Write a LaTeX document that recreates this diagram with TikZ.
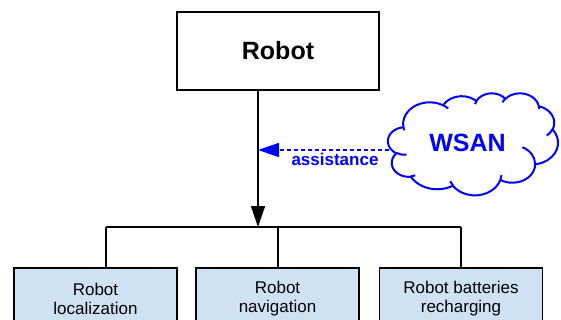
\documentclass[tikz,border=0pt]{standalone}
\usepackage{fontspec}
\setmainfont{Liberation Sans}
\usetikzlibrary{arrows.meta}
\definecolor{boxblue}{HTML}{CFE2F3}
\definecolor{pureblue}{HTML}{0000FF}
% convert a visual (OOXML) arc angle pair into parametric start/delta angles
\newcommand\prepcloudarc[5]{%
  \pgfmathsetmacro\tmpts{atan2((#2)*sin(#4),(#3)*cos(#4))}%
  \pgfmathsetmacro\tmpte{atan2((#2)*sin((#4)+(#5)),(#3)*cos((#4)+(#5)))}%
  \pgfmathsetmacro\tmpd{\tmpte-\tmpts}%
  \pgfmathsetmacro\tmpd{\tmpd-360*round((\tmpd-(#5))/360)}%
  \expandafter\xdef\csname cs#1\endcsname{\tmpts}%
  \expandafter\xdef\csname cd#1\endcsname{\tmpd}%
}
\newcommand\carc[3]{arc[start angle=\csname cs#1\endcsname, delta angle=\csname cd#1\endcsname, x radius=#2, y radius=#3]}
\tikzset{
  topbox/.style={draw=black, line width=1.5pt, minimum width=202pt, minimum height=78pt, inner sep=0pt,
    font=\fontsize{25}{28}\selectfont\bfseries},
  taskbox/.style={draw=black, line width=1.5pt, fill=boxblue, minimum width=163pt, minimum height=61pt,
    inner sep=0pt, align=center, font=\fontsize{17}{19}\selectfont},
  wsantext/.style={inner sep=0pt, text=pureblue, font=\fontsize{25}{28}\selectfont\bfseries},
  cloudline/.style={draw=pureblue, fill=white, line width=2pt, line join=round},
  cloudhook/.style={draw=pureblue, line width=2pt},
  link/.style={draw=black, line width=1.5pt},
  assistlink/.style={draw=pureblue, line width=1.5pt, dash pattern=on 4pt off 3pt,
    -{Triangle[length=21pt,width=14pt,sep=0pt]}},
  assistlabel/.style={text=pureblue, font=\fontsize{17}{19}\selectfont\bfseries, anchor=base, inner sep=0pt}
}
\begin{document}
\prepcloudarc{A}{67.53}{91.90}{-190.4875}{123.7805}%
\prepcloudarc{B}{53.33}{72.67}{-144.1024}{89.9452}%
\prepcloudarc{C}{43.65}{59.45}{-145.8079}{99.7230}%
\prepcloudarc{D}{48.57}{65.95}{-130.9861}{117.2417}%
\prepcloudarc{E}{53.33}{72.73}{-78.7089}{109.0269}%
\prepcloudarc{F}{67.75}{92.20}{-46.2673}{130.2690}%
\prepcloudarc{G}{57.85}{78.67}{0.6250}{114.0333}%
\prepcloudarc{H}{67.52}{92.15}{22.4516}{115.1726}%
\prepcloudarc{I}{77.20}{105.43}{66.2426}{75.7110}%
\prepcloudarc{J}{43.60}{59.18}{-274.9421}{146.7356}%
\prepcloudarc{K}{43.45}{59.45}{-246.8285}{152.5189}%
\prepcloudarc{a}{43.45}{59.45}{86.7420}{26.4295}%
\prepcloudarc{b}{43.60}{59.18}{73.6105}{11.4475}%
\prepcloudarc{c}{67.52}{92.15}{137.6242}{14.0811}%
\prepcloudarc{d}{67.52}{92.15}{6.4533}{15.9984}%
\prepcloudarc{e}{57.85}{78.67}{-70.2924}{70.9174}%
\prepcloudarc{f}{53.33}{72.73}{30.3180}{27.7515}%
\prepcloudarc{g}{48.57}{65.95}{-13.7443}{14.8589}%
\prepcloudarc{h}{48.57}{65.95}{-149.1815}{18.1954}%
\prepcloudarc{i}{43.65}{59.45}{-163.4943}{17.6864}%
\prepcloudarc{j}{67.53}{91.90}{-66.7070}{12.3194}%
\prepcloudarc{k}{67.53}{91.90}{157.6544}{11.8582}%
\begin{tikzpicture}[x=1pt,y=-1pt]
\useasboundingbox (0,0) rectangle (561,320);
\clip (0,0) rectangle (561,320);
\fill[white] (0,0) rectangle (561,320);

\node[topbox] (robot) at (278,51) {Robot};
\node[taskbox] (loc) at (95.5,298.5) {Robot\\localization};
\node[taskbox] (nav) at (277.5,298.5) {Robot\\navigation};
\node[taskbox] (bat) at (461,298.5) {Robot batteries\\recharging};

\coordinate (bus) at (258,227);
\coordinate (j1) at (106,227);
\coordinate (j2) at (278,227);
\coordinate (j3) at (461,227);
\coordinate (assist) at (258,150);
\coordinate (wsanedge) at (396,150);

\draw[link, -{Triangle[length=21pt,width=14pt]}] (robot.south -| bus) -- (bus);
\draw[link] (j1) -- (j3);
\draw[link] (j1) -- (j1 |- loc.north);
\draw[link] (j2) -- (j2 |- nav.north);
\draw[link] (j3) -- (j3 |- bat.north);

\draw[assistlink] (wsanedge) -- (assist);
\node[assistlabel] (assistlbl) at (335,166) {assistance};

% cloud (path space 432 x 432 scaled to 170 x 102)
\begin{scope}[shift={(388,93)}, x=0.393519pt, y=-0.236111pt]
\draw[cloudline] (39,143.7) \carc{A}{67.53}{91.90} \carc{B}{53.33}{72.67} \carc{C}{43.65}{59.45}
  \carc{D}{48.57}{65.95} \carc{E}{53.33}{72.73} \carc{F}{67.75}{92.20} \carc{G}{57.85}{78.67}
  \carc{H}{67.52}{92.15} \carc{I}{77.20}{105.43} \carc{J}{43.60}{59.18} \carc{K}{43.45}{59.45} -- cycle;
\draw[cloudhook] (46.93,261.77) \carc{a}{43.45}{59.45};
\draw[cloudhook] (69.28,348.99) \carc{b}{43.60}{59.18};
\draw[cloudhook] (164.78,390.90) \carc{c}{67.52}{92.15};
\draw[cloudhook] (288.27,347.51) \carc{d}{67.52}{92.15};
\draw[cloudhook] (341.29,229.54) \carc{e}{57.85}{78.67};
\draw[cloudhook] (417.98,153.54) \carc{f}{53.33}{72.73};
\draw[cloudhook] (383.24,54.26) \carc{g}{48.57}{65.95};
\draw[cloudhook] (290.78,39.52) \carc{h}{48.57}{65.95};
\draw[cloudhook] (221.41,47.20) \carc{i}{43.65}{59.45};
\draw[cloudhook] (140.00,51.92) \carc{j}{67.53}{91.90};
\draw[cloudhook] (41.27,157.89) \carc{k}{67.53}{91.90};
\end{scope}
\node[wsantext] (wsan) at (467.5,142.5) {WSAN};
\end{tikzpicture}
\end{document}
